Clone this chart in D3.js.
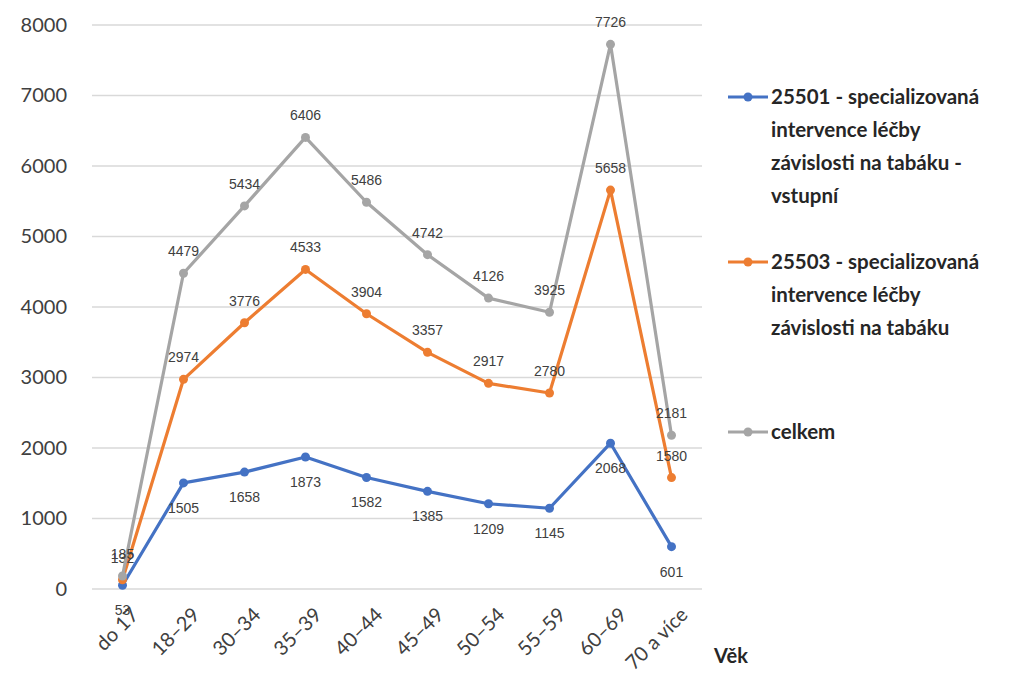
<!DOCTYPE html>
<html>
<head>
<meta charset="utf-8">
<script src="https://cdn.jsdelivr.net/npm/d3@7"></script>
<style>
  body { margin: 0; background: #fff; }
  svg { font-family: Lato, "Open Sans", sans-serif; }
</style>
</head>
<body>
<svg id="chart" width="1024" height="689"></svg>
<script>
// Age groups
const categories = ['do 17', '18–29', '30–34', '35–39', '40–44', '45–49', '50–54', '55–59', '60–69', '70 a více'];

// Series values
const vstupni = [53, 1505, 1658, 1873, 1582, 1385, 1209, 1145, 2068, 601];
const intervence = [132, 2974, 3776, 4533, 3904, 3357, 2917, 2780, 5658, 1580];
const celkem = [185, 4479, 5434, 6406, 5486, 4742, 4126, 3925, 7726, 2181];

const yTicks = [0, 1000, 2000, 3000, 4000, 5000, 6000, 7000, 8000];

const seriesNames = [
    ['25501 - specializovaná', 'intervence léčby', 'závislosti na tabáku -', 'vstupní'],
    ['25503 - specializovaná', 'intervence léčby', 'závislosti na tabáku'],
    ['celkem']
];

/**
 * Visual configs.
 */
const colors = ['#4472C4', '#ED7D31', '#A5A5A5'];
const labelDy = [25, -22, -22]; // data label offset per series
const plot = { left: 92, right: 702, top: 25, bottom: 589 };

const series = [vstupni, intervence, celkem].map((values, i) => ({
    name: seriesNames[i],
    color: colors[i],
    dy: labelDy[i],
    values: values.map((v, j) => ({ cat: categories[j], value: v }))
}));

const svg = d3.select('#chart');

const xScale = d3.scalePoint().domain(categories).range([plot.left, plot.right]).padding(0.5);
const yScale = d3.scaleLinear().domain([0, 8000]).range([plot.bottom, plot.top]);

// Gridlines
svg.append('g').attr('class', 'grid')
    .selectAll('line').data(yTicks).join('line')
    .attr('x1', plot.left).attr('x2', plot.right)
    .attr('y1', d => yScale(d)).attr('y2', d => yScale(d))
    .attr('stroke', '#d9d9d9').attr('stroke-width', 1.5);

// Y axis
const yAxis = svg.append('g')
    .attr('transform', 'translate(' + (plot.left - 25) + ',0)')
    .call(d3.axisLeft(yScale).tickValues(yTicks).tickFormat(d3.format('d')).tickSize(0).tickPadding(0));
yAxis.select('.domain').remove();
yAxis.selectAll('text').attr('font-size', 20).attr('fill', '#404040')
    .attr('font-family', 'Lato, sans-serif');

// X axis
const xAxis = svg.append('g')
    .attr('transform', 'translate(0,' + plot.bottom + ')')
    .call(d3.axisBottom(xScale).tickSize(0).tickPadding(0));
xAxis.select('.domain').remove();
xAxis.selectAll('text')
    .attr('font-size', 20).attr('fill', '#404040')
    .attr('font-family', 'Lato, sans-serif')
    .attr('text-anchor', 'end')
    .attr('dy', 0)
    .attr('transform', 'translate(17,27) rotate(-45)');

// Axis title
svg.append('text')
    .attr('x', 714).attr('y', 663)
    .attr('font-size', 20).attr('font-weight', 'bold').attr('fill', '#262626')
    .text('Věk');

// Lines
const line = d3.line().x(d => xScale(d.cat)).y(d => yScale(d.value));

const seriesG = svg.append('g').selectAll('g.series').data(series).join('g')
    .attr('class', 'series');

seriesG.append('path')
    .attr('d', d => line(d.values))
    .attr('fill', 'none')
    .attr('stroke', d => d.color)
    .attr('stroke-width', 3.2)
    .attr('stroke-linejoin', 'round');

seriesG.each(function(s) {
    const g = d3.select(this);
    g.selectAll('circle').data(s.values).join('circle')
        .attr('cx', d => xScale(d.cat))
        .attr('cy', d => yScale(d.value))
        .attr('r', 4.5)
        .attr('fill', s.color);
});

// Data labels
seriesG.each(function(s) {
    const g = d3.select(this);
    g.selectAll('text').data(s.values).join('text')
        .attr('x', d => xScale(d.cat))
        .attr('y', d => yScale(d.value) + s.dy)
        .attr('dy', '0.35em')
        .attr('text-anchor', 'middle')
        .attr('font-size', 14)
        .attr('fill', '#404040')
        .attr('font-family', 'Liberation Sans, sans-serif')
        .text(d => d.value);
});

// Legend
const legendTop = [97, 262, 432];
const legend = svg.append('g').selectAll('g').data(series).join('g')
    .attr('transform', (d, i) => 'translate(728,' + legendTop[i] + ')');

legend.append('line')
    .attr('x1', 0).attr('x2', 40)
    .attr('stroke', d => d.color).attr('stroke-width', 3.2);
legend.append('circle')
    .attr('cx', 20).attr('r', 4.5).attr('fill', d => d.color);
legend.append('text')
    .attr('x', 43)
    .attr('font-size', 20.5).attr('font-weight', 'bold').attr('fill', '#262626')
    .selectAll('tspan').data(d => d.name).join('tspan')
    .attr('x', 43)
    .attr('y', (d, i) => i * 33)
    .attr('dy', '0.35em')
    .text(d => d);
</script>
</body>
</html>
